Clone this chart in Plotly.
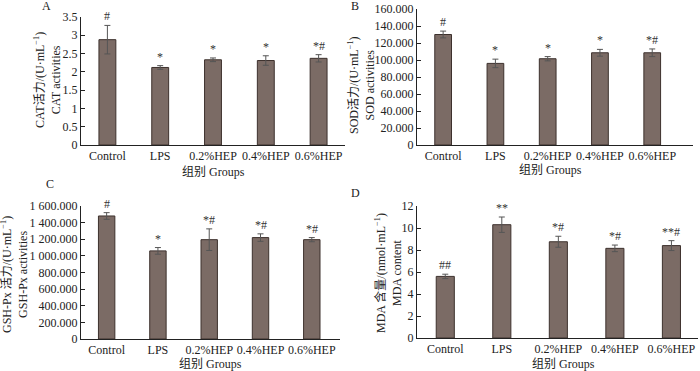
import plotly.graph_objects as go

groups = ["Control", "LPS", "0.2%HEP", "0.4%HEP", "0.6%HEP"]

cat_values = [2.88, 2.12, 2.33, 2.31, 2.37]
cat_errors = [0.39, 0.05, 0.05, 0.13, 0.10]
cat_marks = ["#", "*", "*", "*", "*#"]

sod_values = [130000, 96000, 101500, 108500, 108500]
sod_errors = [4000, 5000, 2500, 4000, 4500]
sod_marks = ["#", "*", "*", "*", "*#"]

gsh_values = [1480000, 1060000, 1195000, 1220000, 1195000]
gsh_errors = [40000, 40000, 130000, 45000, 25000]
gsh_marks = ["#", "*", "*#", "*#", "*#"]

mda_values = [5.6, 10.3, 8.75, 8.15, 8.4]
mda_errors = [0.2, 0.7, 0.5, 0.3, 0.45]
mda_marks = ["##", "**", "*#", "*#", "**#"]

cat_ticks = [0, 0.5, 1, 1.5, 2, 2.5, 3, 3.5]
cat_ticktext = ["0", "0.5", "1", "1.5", "2", "2.5", "3", "3.5"]
sod_ticks = [0, 20000, 40000, 60000, 80000, 100000, 120000, 140000, 160000]
sod_ticktext = ["0", "20.000", "40.000", "60.000", "80.000", "100.000", "120.000", "140.000", "160.000"]
gsh_ticks = [0, 200000, 400000, 600000, 800000, 1000000, 1200000, 1400000, 1600000]
gsh_ticktext = ["0", "200.000", "400.000", "600.000", "800.000", "1 000.000", "1 200.000", "1 400.000", "1 600.000"]
mda_ticks = [0, 2, 4, 6, 8, 10, 12]
mda_ticktext = ["0", "2", "4", "6", "8", "10", "12"]

W, H = 700, 371
FONT = "Liberation Serif, Times New Roman, Noto Sans CJK SC, serif"
BAR_FILL = "#7b6b65"
BAR_LINE = "#3d312d"
ERR = "#555555"
TXT = "#222222"

def px_x(a, b):
    return [a / W, b / W]

def px_y(top, bottom):
    return [1 - bottom / H, 1 - top / H]

panels = [
    dict(vals=cat_values, errs=cat_errors, marks=cat_marks, ticks=cat_ticks, ticktext=cat_ticktext,
         rng=[0, 3.5], xd=px_x(81, 345), yd=px_y(17, 145), xr=[-0.5, 4.5],
         ytitle="CAT活力/(U·mL<sup>−1</sup>)<br>CAT activities", ytx=47, yty=80,
         xtx=213, xty=172, letter="A", lx=46, ly=6),
    dict(vals=sod_values, errs=sod_errors, marks=sod_marks, ticks=sod_ticks, ticktext=sod_ticktext,
         rng=[0, 160000], xd=px_x(417, 693), yd=px_y(9, 145), xr=[-0.5, 4.78],
         ytitle="SOD活力/(U·mL<sup>−1</sup>)<br>SOD activities", ytx=361, yty=85,
         xtx=550, xty=170, letter="B", lx=355, ly=6),
    dict(vals=gsh_values, errs=gsh_errors, marks=gsh_marks, ticks=gsh_ticks, ticktext=gsh_ticktext,
         rng=[0, 1600000], xd=px_x(81, 340), yd=px_y(206, 339), xr=[-0.5, 4.55],
         ytitle="GSH-Px 活力/(U·mL<sup>−1</sup>)<br>GSH-Px activities", ytx=14, yty=275,
         xtx=210, xty=364, letter="C", lx=50, ly=184),
    dict(vals=mda_values, errs=mda_errors, marks=mda_marks, ticks=mda_ticks, ticktext=mda_ticktext,
         rng=[0, 12], xd=px_x(417, 698), yd=px_y(206, 338), xr=[-0.5, 4.47],
         ytitle="MDA 含量/(nmol·mL<sup>−1</sup>)<br>MDA content", ytx=388, yty=273,
         xtx=563, xty=364, letter="D", lx=355, ly=193),
]

fig = go.Figure()
annotations = []
layout = {}
for i, p in enumerate(panels, start=1):
    sx = "" if i == 1 else str(i)
    fig.add_trace(go.Bar(
        x=groups, y=p["vals"], width=0.32,
        marker=dict(color=BAR_FILL, line=dict(color=BAR_LINE, width=1)),
        error_y=dict(type="data", array=p["errs"], visible=True, color=ERR, thickness=1, width=3),
        xaxis="x" + sx, yaxis="y" + sx, showlegend=False,
    ))
    layout["xaxis" + sx] = dict(
        domain=p["xd"], anchor="y" + sx, showline=True, linecolor=TXT, linewidth=1,
        ticks="", showgrid=False, tickfont=dict(family=FONT, size=12, color=TXT),
        range=p["xr"], fixedrange=True, automargin=False,
    )
    layout["yaxis" + sx] = dict(
        domain=p["yd"], anchor="x" + sx, showline=True, linecolor=TXT, linewidth=1,
        ticks="inside", ticklen=4, tickcolor=TXT, showgrid=False, zeroline=False,
        range=p["rng"], tickvals=p["ticks"], ticktext=p["ticktext"], automargin=False,
        tickfont=dict(family=FONT, size=12, color=TXT),
    )
    for g, v, e, m in zip(groups, p["vals"], p["errs"], p["marks"]):
        annotations.append(dict(
            x=g, y=v + e, xref="x" + sx, yref="y" + sx, text=m, showarrow=False,
            yanchor="bottom", yshift=0, font=dict(family=FONT, size=12, color="#333333"),
        ))
    annotations.append(dict(
        x=p["ytx"] / W, y=1 - p["yty"] / H, xref="paper", yref="paper", text=p["ytitle"],
        textangle=-90, showarrow=False, xanchor="center", yanchor="middle",
        font=dict(family=FONT, size=12, color=TXT),
    ))
    annotations.append(dict(
        x=p["xtx"] / W, y=1 - p["xty"] / H, xref="paper", yref="paper", text="组别 Groups",
        showarrow=False, xanchor="center", yanchor="middle",
        font=dict(family=FONT, size=12, color=TXT),
    ))
    annotations.append(dict(
        x=p["lx"] / W, y=1 - p["ly"] / H, xref="paper", yref="paper", text=p["letter"],
        showarrow=False, xanchor="center", yanchor="middle",
        font=dict(family=FONT, size=12, color=TXT),
    ))

fig.update_layout(
    width=W, height=H, margin=dict(l=0, r=0, t=0, b=0),
    paper_bgcolor="white", plot_bgcolor="white", hovermode=False,
    annotations=annotations, **layout,
)
fig.write_html(
    "out.html",
    config={"displayModeBar": False, "staticPlot": True},
    post_script="document.body.style.margin='0';document.body.style.overflow='hidden';",
)
